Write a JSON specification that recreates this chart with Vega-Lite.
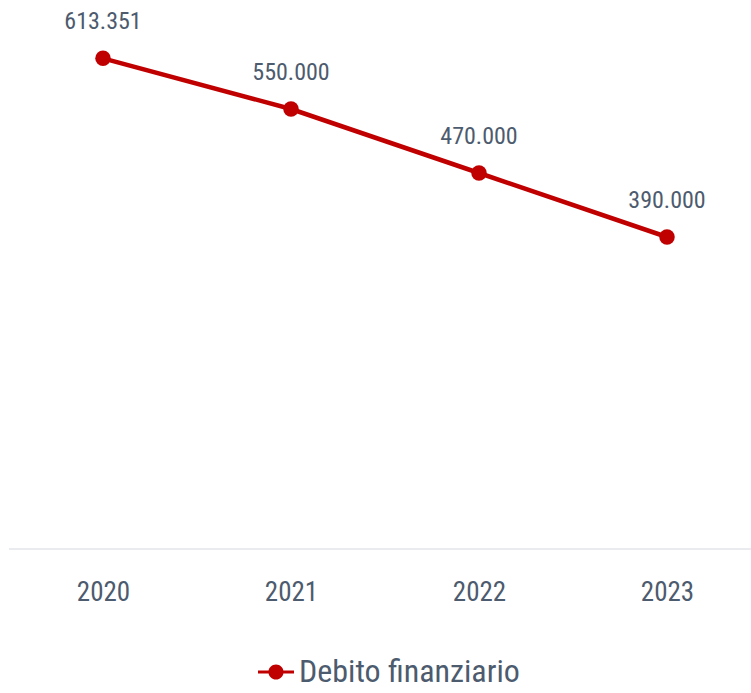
{
  "$schema": "https://vega.github.io/schema/vega-lite/v6.json",
  "autosize": "none",
  "width": 742,
  "height": 549,
  "padding": {"left": 9, "top": 0, "right": 0, "bottom": 144},
  "background": "#ffffff",
  "config": {
    "view": {"stroke": null},
    "locale": {"number": {"decimal": ",", "thousands": ".", "grouping": [3], "currency": ["€", ""]}},
    "font": "Roboto Condensed, Liberation Sans Narrow, DejaVu Sans Condensed, Roboto"
  },
  "data": {
    "values": [
      {"anno": "2020", "valore": 613351, "serie": "Debito finanziario"},
      {"anno": "2021", "valore": 550000, "serie": "Debito finanziario"},
      {"anno": "2022", "valore": 470000, "serie": "Debito finanziario"},
      {"anno": "2023", "valore": 390000, "serie": "Debito finanziario"}
    ]
  },
  "encoding": {
    "x": {
      "field": "anno", "type": "ordinal",
      "scale": {"type": "point", "range": [94, 658], "padding": 0},
      "axis": {"title": null, "domain": false, "ticks": false, "labelAngle": 0, "labelFontSize": 27, "labelColor": "#4d5b6e", "labelPadding": 30, "labelFont": "Roboto Condensed, Liberation Sans Narrow, DejaVu Sans Condensed, Roboto"}
    },
    "y": {
      "field": "valore", "type": "quantitative",
      "scale": {"domain": [0, 686250], "nice": false, "zero": true},
      "axis": null
    }
  },
  "layer": [
    {
      "mark": {"type": "rule", "color": "#e2e4e8", "strokeWidth": 1.5},
      "data": {"values": [{"v": 0}]},
      "encoding": {"y": {"field": "v", "type": "quantitative"}, "x": null}
    },
    {
      "mark": {"type": "line", "strokeWidth": 4.5},
      "encoding": {
        "color": {
          "field": "serie", "type": "nominal",
          "scale": {"domain": ["Debito finanziario"], "range": ["#c00000"]},
          "legend": {
            "title": null, "orient": "none", "legendX": 249, "legendY": 654, "direction": "horizontal",
            "labelFontSize": 32, "labelColor": "#4d5b6e", "labelLimit": 500, "labelFont": "Roboto Condensed, Liberation Sans Narrow, DejaVu Sans Condensed, Roboto",
            "symbolType": "M-1,-0.09H1V0.09H-1Z M0.42,0 A0.42,0.42 0 1 1 -0.42,0 A0.42,0.42 0 1 1 0.42,0Z",
            "symbolSize": 1296, "symbolStrokeWidth": 0, "symbolFillColor": "#c00000",
            "labelOffset": 5
          }
        }
      }
    },
    {
      "mark": {"type": "point", "filled": true, "size": 240, "opacity": 1},
      "encoding": {"color": {"field": "serie", "type": "nominal", "legend": null}}
    },
    {
      "mark": {"type": "text", "dy": -36, "baseline": "middle", "fontSize": 24, "color": "#4d5b6e", "font": "Roboto Condensed, Liberation Sans Narrow, DejaVu Sans Condensed, Roboto"},
      "encoding": {"text": {"field": "valore", "type": "quantitative", "format": ",d"}}
    }
  ]
}
